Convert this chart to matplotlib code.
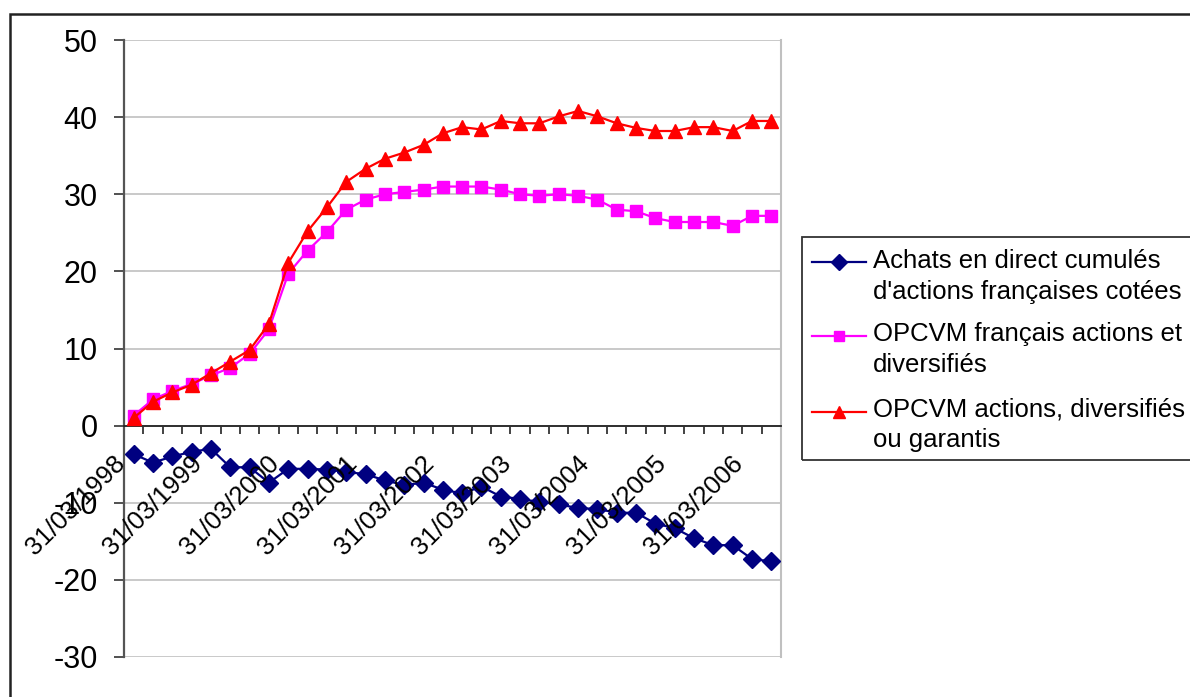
import matplotlib
matplotlib.use("Agg")
import matplotlib.pyplot as plt
import matplotlib.transforms as mtransforms
from matplotlib.patches import Rectangle
from matplotlib.lines import Line2D
import numpy as np
import pandas as pd

plt.rcParams['font.family'] = ['Liberation Sans', 'DejaVu Sans']
plt.rcParams['axes.unicode_minus'] = False

# quarterly dates, 31/03/1998 -> 30/06/2006
quarters = pd.date_range("1998-03-31", "2006-06-30", freq="QE").strftime("%d/%m/%Y").tolist()

achats_direct = [-3.7, -4.8, -4.0, -3.4, -3.0, -5.4, -5.4, -7.4, -5.6, -5.6,
                 -5.7, -6.0, -6.3, -7.1, -7.7, -7.4, -8.3, -8.8, -7.9, -9.2,
                 -9.5, -9.9, -10.2, -10.7, -10.8, -11.3, -11.3, -12.7, -13.3, -14.6,
                 -15.5, -15.5, -17.3, -17.6]
opcvm_francais = [1.3, 3.4, 4.5, 5.4, 6.5, 7.5, 9.3, 12.5, 19.7, 22.7,
                  25.1, 28.0, 29.3, 30.0, 30.3, 30.6, 31.0, 31.0, 31.0, 30.6,
                  30.0, 29.8, 30.0, 29.8, 29.3, 28.0, 27.8, 26.9, 26.4, 26.4,
                  26.4, 25.9, 27.2, 27.2]
opcvm_garantis = [1.0, 3.1, 4.3, 5.3, 6.8, 8.3, 9.8, 13.2, 21.1, 25.2,
                  28.3, 31.6, 33.3, 34.6, 35.4, 36.4, 37.9, 38.7, 38.4, 39.5,
                  39.2, 39.2, 40.1, 40.8, 40.1, 39.2, 38.6, 38.2, 38.2, 38.7,
                  38.7, 38.2, 39.5, 39.5]

series = [
    ("Achats en direct cumulés\nd'actions françaises cotées", achats_direct, "#000080", "D", 9),
    ("OPCVM français actions et\ndiversifiés", opcvm_francais, "#FF00FF", "s", 8.5),
    ("OPCVM actions, diversifiés\nou garantis", opcvm_garantis, "#FF0000", "^", 10),
]

W, H = 1190, 697
fig = plt.figure(figsize=(W / 100, H / 100), dpi=100)


def fx(x):
    return x / W


def fy(y):
    return 1 - y / H


ax = fig.add_axes([fx(124), fy(657), (781 - 124) / W, (657 - 40) / H])

x = np.arange(len(quarters))
for label, vals, color, marker, ms in series:
    ax.plot(x, vals, color=color, marker=marker, markersize=ms, lw=1.6,
            markeredgecolor=color, label=label, zorder=3)

ax.set_xlim(-0.5, len(quarters) - 0.5)
ax.set_ylim(-30, 50)
ax.set_yticks(range(-30, 51, 10))
ax.yaxis.grid(True, color="#C0C0C0", lw=1.2)
ax.set_axisbelow(True)

ax.spines['bottom'].set_position(('data', 0))
ax.spines['bottom'].set_color("#222222")
ax.spines['bottom'].set_linewidth(1.3)
ax.spines['left'].set_color("#555555")
ax.spines['left'].set_linewidth(1.6)
ax.spines['right'].set_color("#C0C0C0")
ax.spines['right'].set_linewidth(1.5)
ax.spines['top'].set_visible(False)

# category boundary ticks on the x axis, labels drawn separately
ax.set_xticks(np.arange(-0.5, len(quarters), 1.0))
ax.set_xticklabels([])
ax.tick_params(axis='x', direction='out', length=6, width=1.2, color="#222222")
ax.tick_params(axis='y', direction='out', length=7, width=1.2, color="#333333",
               labelsize=22, pad=12)

offset = mtransforms.ScaledTranslation(-21 / 100, -26 / 100, fig.dpi_scale_trans)
for i, q in enumerate(quarters):
    if q.startswith("31/03"):
        ax.text(i, 0, q, transform=ax.transData + offset, rotation=45,
                rotation_mode='anchor', ha='right', va='top', fontsize=18.5,
                zorder=4)

# outer frame (only top and left visible)
fig.add_artist(Rectangle((fx(10), -0.1), 1.2, fy(14) + 0.1, transform=fig.transFigure,
                         fill=False, ec="#222222", lw=1.8))

# legend box, drawn like the spreadsheet one (handle on the first line)
fig.add_artist(Rectangle((fx(802), fy(460)), 0.5, (460 - 237) / H, transform=fig.transFigure,
                         fill=False, ec="#333333", lw=1.3))
handle_y = [262, 336, 412]
baselines = [(268, 299), (341, 372), (417, 447)]
for (label, vals, color, marker, ms), hy, bl in zip(series, handle_y, baselines):
    fig.add_artist(Line2D([fx(812), fx(866)], [fy(hy), fy(hy)], transform=fig.transFigure,
                          color=color, lw=1.6))
    fig.add_artist(Line2D([fx(839)], [fy(hy)], transform=fig.transFigure, color=color,
                          marker=marker, markersize=ms - 1, markeredgecolor=color))
    for line, b in zip(label.split("\n"), bl):
        fig.text(fx(873), fy(b), line, fontsize=18.5, ha='left', va='baseline')

fig.savefig("out.png", dpi=100)
